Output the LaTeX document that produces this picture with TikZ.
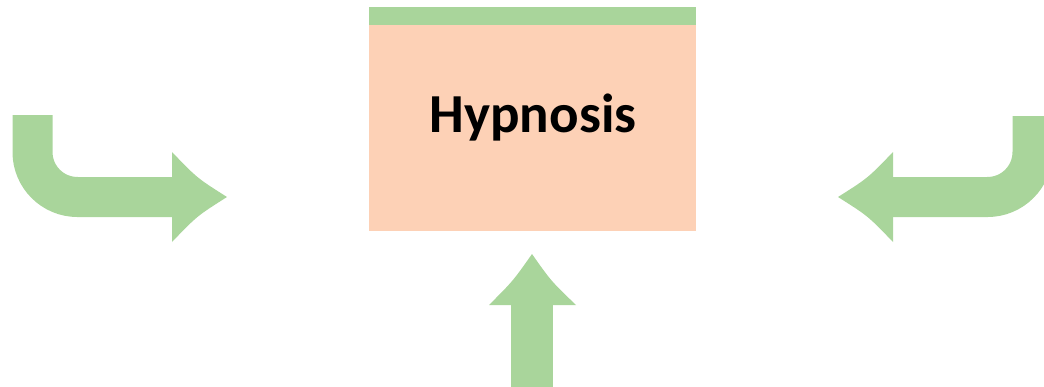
\documentclass[tikz,border=0pt]{standalone}
\usepackage{fontspec}
\setsansfont{Carlito}
\definecolor{leaf}{HTML}{A9D59B}
\definecolor{peach}{HTML}{FDD1B6}
\tikzset{
  shaft/.style={draw=leaf,line width=40pt},
  headfill/.style={fill=leaf},
}
\begin{document}
\begin{tikzpicture}[x=1pt,y=-1pt]
\useasboundingbox (0,0) rectangle (1044,386);
\clip (0,0) rectangle (1044,386);
% box
\node[fill=peach,minimum width=327pt,minimum height=206pt,inner sep=0pt] (box) at (532.5,128) {};
\fill[leaf] (box.north west) rectangle ++(327,-18);
\node[anchor=base,font=\sffamily\bfseries\fontsize{55}{60}\selectfont] (hyp) at (533,132) {Hypnosis};
% left arrow
\draw[shaft,rounded corners=45pt] (32.5,115) -- (32.5,197) -- (173,197);
\fill[headfill] (172,152) .. controls (197,178) .. (227,197) .. controls (197,216) .. (172,242) -- cycle;
% right arrow
\draw[shaft,rounded corners=45pt] (1032.5,116) -- (1032.5,197) -- (892,197);
\fill[headfill] (893,152) .. controls (868,178) .. (838,197) .. controls (868,216) .. (893,242) -- cycle;
% bottom arrow
\draw[shaft,line width=42pt] (532,390) -- (532,304);
\fill[headfill] (489,305) .. controls (513,281) .. (532,254) .. controls (551,281) .. (576,305) -- cycle;
\end{tikzpicture}
\end{document}
